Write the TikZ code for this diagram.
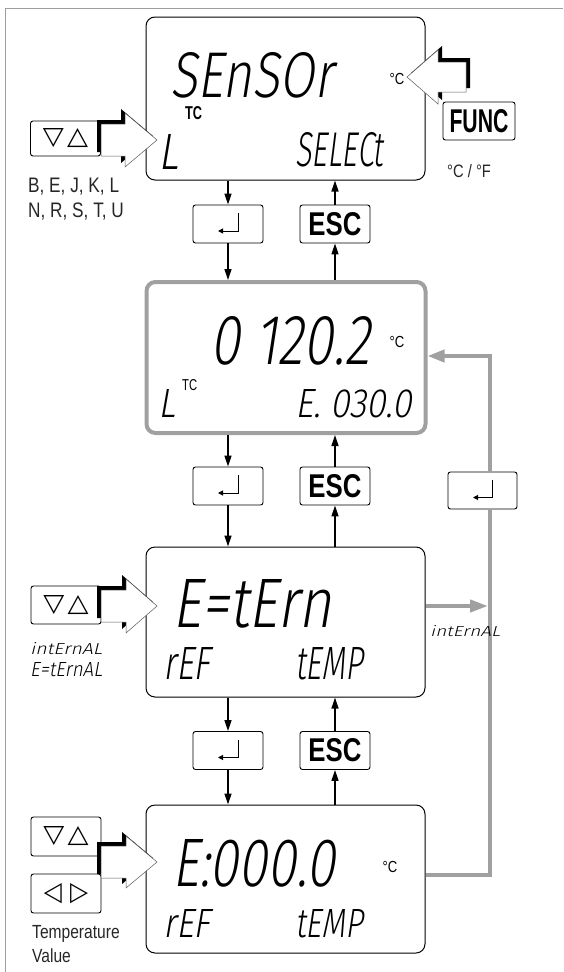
\documentclass[tikz,border=0pt]{standalone}
\usepackage{fontspec}
\usepackage{graphicx}
\setmainfont{Liberation Sans}
\newfontfamily\labf{Liberation Sans}[FakeStretch=0.82]
\newfontfamily\symf{DejaVu Sans}
\IfFontExistsTF{Fira Sans Light}{\newfontfamily\segf{Fira Sans Light}[FakeSlant=0.2]}{\newfontfamily\segf{DejaVu Sans}[FakeSlant=0.2]}
\usetikzlibrary{arrows.meta}
\definecolor{lgray}{HTML}{9E9E9E}
\definecolor{fgray}{HTML}{A0A0A0}
\newcommand\segtxt[3]{\resizebox{#1pt}{#2pt}{\segf #3}}
\newcommand\boldtxt[3]{\resizebox{#1pt}{#2pt}{\bfseries #3}}
\newcommand\fatarrow[7]{%
 \fill[black] ({#1+#7},{#4-#5-4}) -- ({#2+#7},{#4-#5-4}) -- ({#2+#7},{#4-#6-4}) -- ({#3+#7},{#4-4}) -- ({#2+#7},{#4+#6-4}) -- ({#2+#7},{#4+#5-4}) -- ({#1+#7},{#4+#5-4}) -- cycle;
 \filldraw[fill=white, draw=black!65, line width=0.5pt] (#1,{#4-#5}) -- (#2,{#4-#5}) -- (#2,{#4-#6}) -- (#3,#4) -- (#2,{#4+#6}) -- (#2,{#4+#5}) -- (#1,{#4+#5}) -- cycle;}
\newcommand\entericon[2]{%
 \draw[line width=1pt, -{Triangle[length=5pt,width=5pt]}] ([xshift=#2pt,yshift=11pt]#1.center) -- ([xshift=#2pt,yshift=-7pt]#1.center) -- ([xshift=-#2pt,yshift=-7pt]#1.center);}
\newcommand\tris{\resizebox{21pt}{16pt}{\symf ▽}\hspace{3pt}\resizebox{21pt}{16pt}{\symf △}}
\newcommand\trislr{\resizebox{18pt}{17pt}{\symf ◁}\hspace{8pt}\resizebox{18pt}{17pt}{\symf ▷}}
\begin{document}
\begin{tikzpicture}[x=1pt,y=-1pt,
  lcd/.style={draw=black, line width=1pt, rounded corners=9pt, inner sep=0pt},
  keybox/.style={draw=black, line width=0.9pt, rounded corners=2.5pt, fill=white, minimum width=70pt, minimum height=38pt, inner sep=0pt},
  flow/.style={draw=black, line width=1.3pt, -{Triangle[length=11pt,width=7pt]}},
  grayline/.style={draw=fgray, line width=4pt},
  seg/.style={inner sep=0pt, anchor=south west},
  lab/.style={inner sep=0pt, anchor=base west, text=black!85, font=\labf\fontsize{21}{21}\selectfont},
  deg/.style={inner sep=0pt, font=\labf\fontsize{16}{16}\selectfont}]
\useasboundingbox (0,0) rectangle (563,972);
\draw[lgray, line width=1pt] (5.5,972) -- (5.5,8.5) -- (563,8.5);

% displays
\node[lcd, minimum width=279pt, minimum height=163pt] (b1) at (285.5,98.5) {};
\node[lcd, draw=fgray, line width=4pt, minimum width=279pt, minimum height=151pt] (b2) at (286,357.5) {};
\node[lcd, minimum width=279pt, minimum height=150pt] (b3) at (285.5,622) {};
\node[lcd, minimum width=279pt, minimum height=148pt] (b4) at (285.5,879) {};

% keys
\node[keybox] (e1) at (228,224) {};
\node[keybox] (s1) at (335,224) {\boldtxt{53}{23}{ESC}};
\node[keybox] (e2) at (228,486) {};
\node[keybox] (s2) at (335,486) {\boldtxt{53}{23}{ESC}};
\node[keybox, minimum width=69pt, minimum height=37pt] (e3) at (482.5,490.5) {};
\node[keybox] (e4) at (228,750.5) {};
\node[keybox] (s4) at (335,750.5) {\boldtxt{53}{23}{ESC}};
\node[keybox, minimum width=72pt] (fk) at (479,121) {\boldtxt{59}{23}{FUNC}};
\node[keybox, minimum height=35pt] (k1) at (65.5,138.5) {\tris};
\node[keybox] (k3) at (66,605) {\tris};
\node[keybox, minimum height=39pt] (k4a) at (66,836.5) {\tris};
\node[keybox, minimum height=39pt] (k4b) at (66,893.5) {\trislr};
\entericon{e1}{10}
\entericon{e2}{10}
\entericon{e3}{9.5}
\entericon{e4}{10}

% fat arrows
\fatarrow{101}{125}{157}{140}{16}{27}{-4}
\fatarrow{101}{126}{157}{606}{16}{27}{-4}
\fatarrow{101}{126}{157}{862}{16}{26}{-4}
\fatarrow{466}{438}{407}{77}{15}{27}{4}

% black flow arrows
\draw[flow] (b1.south -| e1) -- (e1.north);
\draw[flow] (e1.south) -- (b2.north -| e1);
\draw[flow] (s1.north) -- (b1.south -| s1);
\draw[flow] (b2.north -| s1) -- (s1.south);
\draw[flow] (b2.south -| e2) -- (e2.north);
\draw[flow] (e2.south) -- (b3.north -| e2);
\draw[flow] (s2.north) -- (b2.south -| s2);
\draw[flow] (b3.north -| s2) -- (s2.south);
\draw[flow] (b3.south -| e4) -- (e4.north);
\draw[flow] (e4.south) -- (b4.north -| e4);
\draw[flow] (s4.north) -- (b3.south -| s4);
\draw[flow] (b4.north -| s4) -- (s4.south);

% gray connectors
\coordinate (gx) at (490,0);
\coordinate (gy4) at (0,875);
\coordinate (gy2) at (0,356);
\coordinate (g3) at (488,606);
\draw[grayline] (b4.east |- gy4) -| (e3.south -| gx);
\draw[grayline, -{Triangle[length=17pt,width=12pt]}] (e3.north -| gx) |- (b2.east |- gy2);
\draw[grayline, -{Triangle[length=18pt,width=12pt]}] (b3.east |- g3) -- (g3);

% display texts
\node[seg] (t1) at (170,98) {\segtxt{163}{45}{SEnSOr}};
\node[seg] (t2) at (158,170) {\segtxt{20}{35}{L}};
\node[seg] (t3) at (295,167) {\segtxt{88}{34}{SELECt}};
\node[seg] (t4) at (210,365) {\segtxt{160}{48}{0 120.2}};
\node[seg] (t5) at (158,418) {\segtxt{17}{28}{L}};
\node[seg] (t6) at (295,418) {\segtxt{117}{28}{E. 030.0}};
\node[seg] (t7) at (172,628) {\segtxt{160}{48}{E=tErn}};
\node[seg] (t8) at (163,680) {\segtxt{47}{32}{rEF}};
\node[seg] (t9) at (295,680) {\segtxt{68}{32}{tEMP}};
\node[seg] (t10) at (172,887) {\segtxt{163}{47}{E:000.0}};
\node[seg] (t11) at (163,938) {\segtxt{47}{28}{rEF}};
\node[seg] (t12) at (295,938) {\segtxt{68}{28}{tEMP}};
\node[seg] (t13) at (30,655) {\segtxt{72}{12}{intErnAL}};
\node[seg] (t14) at (30,677) {\segtxt{72}{14}{E=tErnAL}};
\node[seg] (t15) at (430,637) {\segtxt{70}{11}{intErnAL}};

\node[seg] (tc1) at (185,120) {\boldtxt{17}{13}{TC}};
\node[seg] (tc2) at (182,391) {\resizebox{15pt}{11pt}{TC}};
\node[deg] (c1) at (397,79) {°C};
\node[deg] (c2) at (397,342) {°C};
\node[deg] (c4) at (390,867) {°C};

% labels
\node[lab] (lb1) at (28,192) {B, E, J, K, L};
\node[lab] (lb2) at (28,217) {N, R, S, T, U};
\node[lab, font=\labf\fontsize{18}{18}\selectfont] (lcf) at (447,177) {°C / °F};
\node[lab, font=\labf\fontsize{19}{19}\selectfont] (lt1) at (32,938) {Temperature};
\node[lab, font=\labf\fontsize{19}{19}\selectfont] (lt2) at (32,962) {Value};
\end{tikzpicture}
\end{document}
